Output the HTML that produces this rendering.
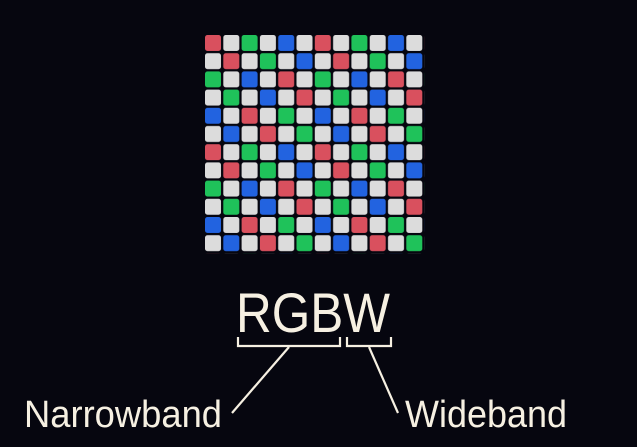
<!DOCTYPE html>
<html><head><meta charset="utf-8"><style>
html,body{margin:0;padding:0;background:#06060f;}
svg{display:block}
</style></head><body>
<svg width="637" height="447" viewBox="0 0 637 447" xmlns="http://www.w3.org/2000/svg">
<defs>
<pattern id="p" patternUnits="userSpaceOnUse" x="205" y="35" width="109.8" height="109.2">
<rect width="109.8" height="109.2" fill="#06060f"/>
<g>
<rect x="0" y="0" width="16" height="16" rx="2.5" fill="#d9505e"/>
<rect x="18.3" y="0" width="16" height="16" rx="2.5" fill="#dcdcdc"/>
<rect x="36.6" y="0" width="16" height="16" rx="2.5" fill="#1fc25a"/>
<rect x="54.9" y="0" width="16" height="16" rx="2.5" fill="#dcdcdc"/>
<rect x="73.2" y="0" width="16" height="16" rx="2.5" fill="#2263e0"/>
<rect x="91.5" y="0" width="16" height="16" rx="2.5" fill="#dcdcdc"/>

<rect x="0" y="18.2" width="16" height="16" rx="2.5" fill="#dcdcdc"/>
<rect x="18.3" y="18.2" width="16" height="16" rx="2.5" fill="#d9505e"/>
<rect x="36.6" y="18.2" width="16" height="16" rx="2.5" fill="#dcdcdc"/>
<rect x="54.9" y="18.2" width="16" height="16" rx="2.5" fill="#1fc25a"/>
<rect x="73.2" y="18.2" width="16" height="16" rx="2.5" fill="#dcdcdc"/>
<rect x="91.5" y="18.2" width="16" height="16" rx="2.5" fill="#2263e0"/>

<rect x="0" y="36.4" width="16" height="16" rx="2.5" fill="#1fc25a"/>
<rect x="18.3" y="36.4" width="16" height="16" rx="2.5" fill="#dcdcdc"/>
<rect x="36.6" y="36.4" width="16" height="16" rx="2.5" fill="#2263e0"/>
<rect x="54.9" y="36.4" width="16" height="16" rx="2.5" fill="#dcdcdc"/>
<rect x="73.2" y="36.4" width="16" height="16" rx="2.5" fill="#d9505e"/>
<rect x="91.5" y="36.4" width="16" height="16" rx="2.5" fill="#dcdcdc"/>

<rect x="0" y="54.6" width="16" height="16" rx="2.5" fill="#dcdcdc"/>
<rect x="18.3" y="54.6" width="16" height="16" rx="2.5" fill="#1fc25a"/>
<rect x="36.6" y="54.6" width="16" height="16" rx="2.5" fill="#dcdcdc"/>
<rect x="54.9" y="54.6" width="16" height="16" rx="2.5" fill="#2263e0"/>
<rect x="73.2" y="54.6" width="16" height="16" rx="2.5" fill="#dcdcdc"/>
<rect x="91.5" y="54.6" width="16" height="16" rx="2.5" fill="#d9505e"/>

<rect x="0" y="72.8" width="16" height="16" rx="2.5" fill="#2263e0"/>
<rect x="18.3" y="72.8" width="16" height="16" rx="2.5" fill="#dcdcdc"/>
<rect x="36.6" y="72.8" width="16" height="16" rx="2.5" fill="#d9505e"/>
<rect x="54.9" y="72.8" width="16" height="16" rx="2.5" fill="#dcdcdc"/>
<rect x="73.2" y="72.8" width="16" height="16" rx="2.5" fill="#1fc25a"/>
<rect x="91.5" y="72.8" width="16" height="16" rx="2.5" fill="#dcdcdc"/>

<rect x="0" y="91" width="16" height="16" rx="2.5" fill="#dcdcdc"/>
<rect x="18.3" y="91" width="16" height="16" rx="2.5" fill="#2263e0"/>
<rect x="36.6" y="91" width="16" height="16" rx="2.5" fill="#dcdcdc"/>
<rect x="54.9" y="91" width="16" height="16" rx="2.5" fill="#d9505e"/>
<rect x="73.2" y="91" width="16" height="16" rx="2.5" fill="#dcdcdc"/>
<rect x="91.5" y="91" width="16" height="16" rx="2.5" fill="#1fc25a"/>
</g>
</pattern>
</defs>
<rect width="637" height="447" fill="#06060f"/>
<rect x="205" y="35" width="219.6" height="218.4" fill="url(#p)"/>
<g fill="#f6f0e2" font-family="Liberation Sans, sans-serif">
<text x="236" y="332" font-size="56" textLength="154" lengthAdjust="spacingAndGlyphs">RGBW</text>
<text x="24" y="427" font-size="38" textLength="198" lengthAdjust="spacingAndGlyphs">Narrowband</text>
<text x="405" y="427" font-size="38" textLength="162" lengthAdjust="spacingAndGlyphs">Wideband</text>
</g>
<g stroke="#f6f0e2" stroke-width="2.2" fill="none">
<polyline points="238,337 238,346 340,346 340,337"/>
<polyline points="347,337 347,346 391,346 391,337"/>
<line x1="289" y1="347" x2="232" y2="413"/>
<line x1="369" y1="347" x2="398" y2="413"/>
</g>
</svg>
</body></html>
